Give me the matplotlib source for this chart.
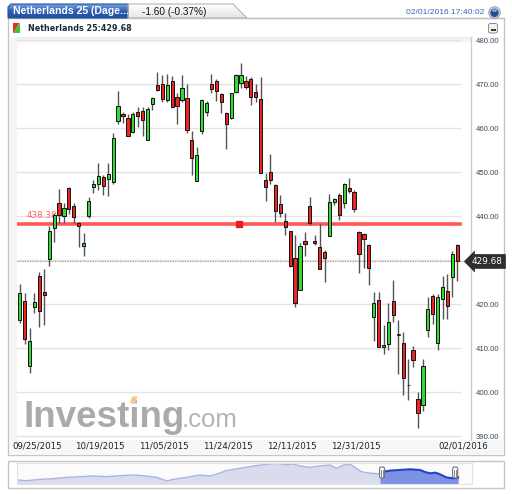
import numpy as np
import matplotlib
matplotlib.use("Agg")
import matplotlib.pyplot as plt
from matplotlib.patches import Polygon, Rectangle, FancyBboxPatch, Circle, Ellipse
from matplotlib.colors import LinearSegmentedColormap
from matplotlib.transforms import blended_transform_factory, ScaledTranslation

# ---------------- data ----------------
opens = [416.4, 420.8, 405.9, 419.3, 426.4, 422.8, 430.2, 437.2, 443.0, 440.0,
         446.3, 442.3, 438.5, 433.2, 440.0, 446.7, 447.3, 448.8, 448.4, 447.7,
         461.6, 463.3, 462.4, 459.2, 463.6, 463.9, 457.4, 465.5, 469.8, 470.0,
         466.4, 470.8, 467.0, 466.4, 466.8, 457.3, 448.0, 459.4, 463.7, 470.0,
         470.8, 467.7, 463.5, 462.2, 468.1, 470.2, 470.8, 471.1, 468.3, 466.5,
         448.2, 450.1, 447.0, 442.7, 438.9, 436.6, 430.4, 423.3, 434.4, 442.3,
         434.4, 432.9, 431.8, 435.5, 443.3, 444.8, 442.9, 446.3, 445.5, 436.4,
         435.9, 433.4, 417.0, 420.9, 410.3, 410.9, 420.7, 413.1, 411.1, 401.6,
         409.5, 398.4, 397.1, 414.1, 421.8, 411.2, 421.1, 423.0, 426.1, 433.4]
highs = [424.5, 422.4, 414.5, 422.5, 427.3, 427.9, 437.7, 440.8, 446.1, 442.9,
         446.5, 443.0, 438.7, 436.1, 444.4, 448.2, 452.0, 449.3, 452.0, 458.8,
         468.5, 463.7, 463.3, 463.7, 464.7, 464.8, 464.8, 467.0, 472.8, 472.0,
         472.3, 471.8, 467.9, 472.0, 470.0, 459.4, 455.6, 466.5, 466.2, 472.3,
         471.1, 468.0, 463.7, 468.0, 472.3, 474.7, 471.8, 471.7, 470.0, 471.7,
         449.9, 454.0, 447.3, 444.8, 440.8, 436.7, 435.7, 433.8, 436.4, 444.4,
         435.7, 438.3, 432.3, 445.0, 444.0, 445.2, 447.6, 448.6, 445.9, 436.7,
         436.2, 433.6, 422.8, 422.8, 415.2, 420.2, 425.5, 416.4, 413.7, 407.4,
         410.5, 400.1, 407.4, 421.7, 422.3, 422.3, 426.4, 426.8, 432.1, 433.6]
lows = [415.7, 410.9, 404.4, 418.0, 414.8, 415.2, 428.6, 434.2, 438.5, 438.5,
        440.5, 438.4, 432.9, 430.9, 439.5, 445.3, 445.9, 444.8, 444.5, 447.3,
        460.9, 461.1, 458.2, 458.8, 460.3, 458.2, 457.3, 464.1, 468.5, 466.0,
        466.0, 464.5, 460.9, 466.0, 458.9, 449.3, 447.9, 458.6, 462.7, 468.0,
        466.2, 463.5, 455.2, 462.1, 467.9, 469.0, 468.9, 465.2, 466.0, 449.7,
        443.5, 447.4, 438.7, 439.9, 435.7, 428.5, 419.4, 423.2, 430.9, 438.0,
        433.4, 427.9, 425.1, 435.4, 442.5, 439.1, 441.8, 445.2, 441.0, 427.0,
        428.3, 424.3, 411.7, 410.2, 408.6, 409.5, 416.0, 404.1, 399.3, 398.2,
        405.8, 391.8, 395.8, 412.4, 415.5, 409.5, 416.5, 416.5, 421.5, 425.3]
closes = [422.5, 412.0, 411.7, 420.5, 418.5, 422.0, 436.6, 440.2, 440.2, 441.8,
          441.5, 439.8, 437.8, 433.8, 443.4, 447.4, 449.1, 446.8, 449.5, 457.7,
          465.0, 462.7, 458.3, 463.2, 462.7, 461.8, 464.3, 466.8, 468.6, 466.5,
          469.8, 464.8, 465.0, 469.0, 459.5, 453.3, 453.9, 466.4, 465.8, 468.8,
          468.5, 466.0, 461.0, 467.9, 472.1, 472.1, 469.3, 467.1, 467.0, 449.8,
          446.7, 448.3, 441.2, 440.6, 437.6, 428.6, 420.3, 433.3, 433.6, 438.5,
          433.8, 428.0, 430.4, 443.3, 443.8, 440.2, 447.3, 445.8, 441.5, 431.4,
          434.7, 428.3, 420.3, 410.3, 410.8, 416.0, 417.5, 413.1, 403.1, 401.6,
          407.3, 395.2, 406.0, 418.8, 417.7, 421.5, 423.9, 419.5, 431.28, 429.68]

tick_idx = [0, 16, 29, 42, 55, 68, 89]
tick_labels = ["09/25/2015", "10/19/2015", "11/05/2015", "11/24/2015",
               "12/11/2015", "12/31/2015", "02/01/2016"]
y_ticks = [390, 400, 410, 420, 430, 440, 450, 460, 470, 480]

level_line = 438.3
level_label = "438.38"
last_price = 429.68
title_tab = "Netherlands 25 (Dage..."
change_text = "-1.60 (-0.37%)"
stamp_text = "02/01/2016 17:40:02"
sub_title = "Netherlands 25:429.68"

nav_day = [0, 11, 27, 42, 58, 74, 89, 105, 121, 137, 152, 164, 176, 184, 199,
           215, 227, 235, 246, 262, 278, 294, 305, 317, 325, 333, 344, 356, 368,
           376, 384, 392, 399, 405, 411, 419, 427, 431, 439, 450, 462, 474, 480,
           486, 492, 497, 505, 513, 519]
nav_level = [373.8, 367.6, 380.0, 386.0, 398.0, 404.4, 410.6, 404.4, 413.7, 419.8,
             410.6, 398.0, 364.6, 380.0, 398.0, 419.8, 410.6, 429.0, 459.7, 481.1,
             502.6, 518.0, 527.2, 514.9, 521.0, 502.6, 490.3, 502.6, 511.8, 481.1,
             511.8, 518.0, 481.1, 450.4, 441.3, 435.1, 429.0, 450.4, 459.7, 465.8,
             472.0, 465.8, 447.4, 435.1, 441.3, 429.0, 398.0, 389.2, 398.0]
nav_sel_start = 427

# ---------------- figure ----------------
W, H = 512, 494
fig = plt.figure(figsize=(W / 100, H / 100), dpi=100)
fig.patch.set_facecolor("white")


def fax(x0, y0, x1, y1, **kw):
    return fig.add_axes([x0 / W, 1 - y1 / H, (x1 - x0) / W, (y1 - y0) / H], **kw)


bg = fig.add_axes([0, 0, 1, 1], zorder=0)
bg.set_xlim(0, W)
bg.set_ylim(H, 0)
bg.axis("off")

# panel
bg.add_patch(Rectangle((8, 18), 496, 437, fc="white", ec="#c4c4c4", lw=1))
bg.add_patch(Rectangle((9.5, 37), 7.5, 403, fc="#f4f4f4", ec="none"))
bg.add_patch(Rectangle((9.5, 440), 494, 14.5, fc="#f6f7f9", ec="none"))
shade = np.linspace(0, 1, 20).reshape(-1, 1)
cm_shade = LinearSegmentedColormap.from_list("s", ["#ececec", "#ffffff"])
bg.imshow(shade, extent=(17, 471, 45, 37), cmap=cm_shade, aspect="auto", zorder=1)

# tabs
grad = np.linspace(0, 1, 40).reshape(-1, 1)
tab1 = Polygon([(8, 18), (8, 7), (11, 4), (128, 4), (128, 18)], closed=True,
               fc="none", ec="#2a55a0", lw=0.8, zorder=3)
cm_blue = LinearSegmentedColormap.from_list("b", ["#78a2e2", "#2c5fb3", "#1f4f9e"])
im1 = bg.imshow(grad, extent=(8, 128, 18, 4), cmap=cm_blue, aspect="auto", zorder=2)
bg.add_patch(tab1)
im1.set_clip_path(tab1)
tab2 = Polygon([(128, 4), (233, 4), (247, 18), (128, 18)], closed=True,
               fc="none", ec="#b4b4b4", lw=0.8, zorder=3)
cm_grey = LinearSegmentedColormap.from_list("g", ["#ffffff", "#e4e4e4"])
im2 = bg.imshow(grad, extent=(128, 247, 18, 4), cmap=cm_grey, aspect="auto", zorder=2)
bg.add_patch(tab2)
im2.set_clip_path(tab2)
bg.plot([247, 504], [18, 18], color="#c4c4c4", lw=1, zorder=3)
bg.set_xlim(0, W)
bg.set_ylim(H, 0)

bg.text(13, 11.5, title_tab, color="white", fontsize=7.6, fontweight="bold",
        family="Liberation Sans", va="center", ha="left", zorder=4)
bg.text(142, 11.8, change_text, color="#111111", fontsize=7.2,
        family="Liberation Sans", va="center", ha="left", zorder=4)
bg.text(406, 13, stamp_text, color="#3567b5", fontsize=6.1,
        family="Liberation Sans", va="center", ha="left", zorder=4)
bg.add_patch(Circle((494.5, 12.5), 5.8, fc="#c9d3e6", ec="#8a9ab8", lw=0.6, zorder=4))
bg.add_patch(Circle((494.5, 12.8), 4.2, fc="#2a4c8c", ec="none", zorder=5))
bg.add_patch(Ellipse((494.5, 10.6), 5.0, 2.6, fc="#8fb0e6", ec="none", zorder=6))

# sub header
bg.add_patch(Polygon([(13, 23), (19.5, 23), (13, 33.5)], closed=True, fc="#e8302a", ec="none"))
bg.add_patch(Polygon([(19.5, 23), (19.5, 33.5), (13, 33.5)], closed=True, fc="#2fc82f", ec="none"))
bg.text(28, 28.5, sub_title, color="#1c2b36", fontsize=5.8, fontweight="bold",
        family="DejaVu Sans", va="center", ha="left")
bg.add_patch(FancyBboxPatch((488.5, 23.5), 9, 9.5, boxstyle="round,pad=0,rounding_size=2",
                            fc="#f2f2f2", ec="#8a8a8a", lw=0.7))
bg.plot([490.5, 496], [30, 30], color="#333333", lw=1.4, solid_capstyle="butt")

# watermark
bg.text(23, 427, "Investing", color="#aaaaaa", fontsize=26.5, fontweight="bold",
        family="Liberation Sans", va="baseline", ha="left", zorder=1)
bg.text(182, 427, ".com", color="#b4b4b4", fontsize=18.5,
        family="Liberation Sans", va="baseline", ha="left", zorder=1)
bg.add_patch(Polygon([(130, 403), (132, 396.5), (137.5, 396.5), (135.5, 403)], closed=True,
                     fc="#f6c987", ec="none", zorder=2))

# ---------------- main chart ----------------
ax = fax(17, 37, 471, 440, zorder=2)
ax.set_facecolor("none")
n = len(closes)
x = np.arange(n)
ax.set_xlim(-0.55, 91.78)
ax.set_ylim(389.1, 480.7)

for v in y_ticks:
    ax.axhline(v, xmin=0, xmax=0.976, color="#e3e3e3", lw=1, zorder=0)

ax.axhline(level_line, xmin=0, xmax=0.976, color="#ff3a3a", lw=2.6, alpha=0.85, zorder=1)
ax.plot([44.5], [level_line], marker="s", ms=4.2, color="#e82020", zorder=1.5)
ax.text(1.5, level_line + 0.9, level_label, color="#ff5f5f", fontsize=6.3,
        ha="left", va="bottom", zorder=1.2)
ax.axhline(last_price, xmin=0, xmax=0.982, color="#9a9a9a", lw=0.9,
           ls=(0, (1, 1)), zorder=1)

o = np.array(opens)
c = np.array(closes)
hi = np.array(highs)
lo = np.array(lows)
up = c > o
dn = c < o
eq = c == o
ax.vlines(x, lo, hi, color="#555555", lw=1, zorder=3)
ax.bar(x[up], (c - o)[up], bottom=o[up], width=0.66, color="#2fdc2f",
       edgecolor="#111111", lw=0.7, zorder=4)
ax.bar(x[dn], (c - o)[dn], bottom=o[dn], width=0.66, color="#ee2424",
       edgecolor="#111111", lw=0.7, zorder=4)
ax.bar(x[eq], 0.2, bottom=o[eq] - 0.1, width=0.66, color="#111111",
       edgecolor="#111111", lw=0.5, zorder=4)

for s in ["left", "top", "bottom"]:
    ax.spines[s].set_visible(False)
ax.spines["right"].set_color("#cccccc")
ax.spines["right"].set_linewidth(1)

ax.yaxis.tick_right()
ax.set_yticks(y_ticks)
# the 430.00 label is hidden behind the last-price box in the original
ax.set_yticklabels(["" if abs(v - last_price) < 2 else f"{v:.2f}" for v in y_ticks],
                   family="Liberation Sans")
ax.tick_params(axis="y", length=0, pad=3.6, labelsize=5.6, labelcolor="#3a4a5a")

ax.set_xticks(tick_idx)
ax.set_xticklabels(tick_labels)
ax.tick_params(axis="x", length=0, pad=0.8, labelsize=6.2, labelcolor="#222222")
offsets = [17, 1.8, 1.8, 1.8, 1.8, 1.8, 5.7]
for lab, dx in zip(ax.get_xticklabels(), offsets):
    lab.set_transform(lab.get_transform() + ScaledTranslation(dx / 100, 0, fig.dpi_scale_trans))

trans = blended_transform_factory(ax.transAxes, ax.transData)
ax.text(1.0022, last_price, f"{last_price:.2f}", transform=trans, color="white",
        fontsize=6.4, ha="left", va="center", zorder=10, clip_on=False,
        bbox=dict(boxstyle="larrow,pad=0.32", fc="#2e2e2e", ec="none"))

# ---------------- navigator ----------------
bg.add_patch(Rectangle((8, 460.5), 496, 27.5, fc="white", ec="#c4c4c4", lw=1))
nav = fax(17.3, 462.7, 471.7, 484, zorder=2)
nav.set_facecolor("#fbfbfb")
for s in nav.spines.values():
    s.set_color("#e2e2e2")
nav.set_xticks([])
nav.set_yticks([])
nav.set_xlim(0, 535)
nav.set_ylim(337, 533)
nd = np.array(nav_day)
nl = np.array(nav_level)
nav.fill_between(nd, 337, nl, color="#d9dcec", lw=0)
nav.plot(nd, nl, color="#a9b3e2", lw=1)
sel = nd >= nav_sel_start
nav.fill_between(nd[sel], 337, nl[sel], color="#7d91e2", lw=0)
nav.plot(nd[sel], nl[sel], color="#2243c8", lw=1.5)
for t in [nd[sel][0] + 2.5, nd[sel][-1] - 3.5]:
    nav.add_patch(FancyBboxPatch((t - 3.0, 393), 6.0, 100,
                                 boxstyle="round,pad=0,rounding_size=1.5",
                                 fc="white", ec="#707070", lw=0.8, clip_on=False,
                                 mutation_aspect=16, zorder=5))
    nav.plot([t - 0.9, t - 0.9], [415, 470], color="#707070", lw=0.6, zorder=6)
    nav.plot([t + 0.9, t + 0.9], [415, 470], color="#707070", lw=0.6, zorder=6)

fig.savefig("out.png", dpi=100, facecolor="white")
